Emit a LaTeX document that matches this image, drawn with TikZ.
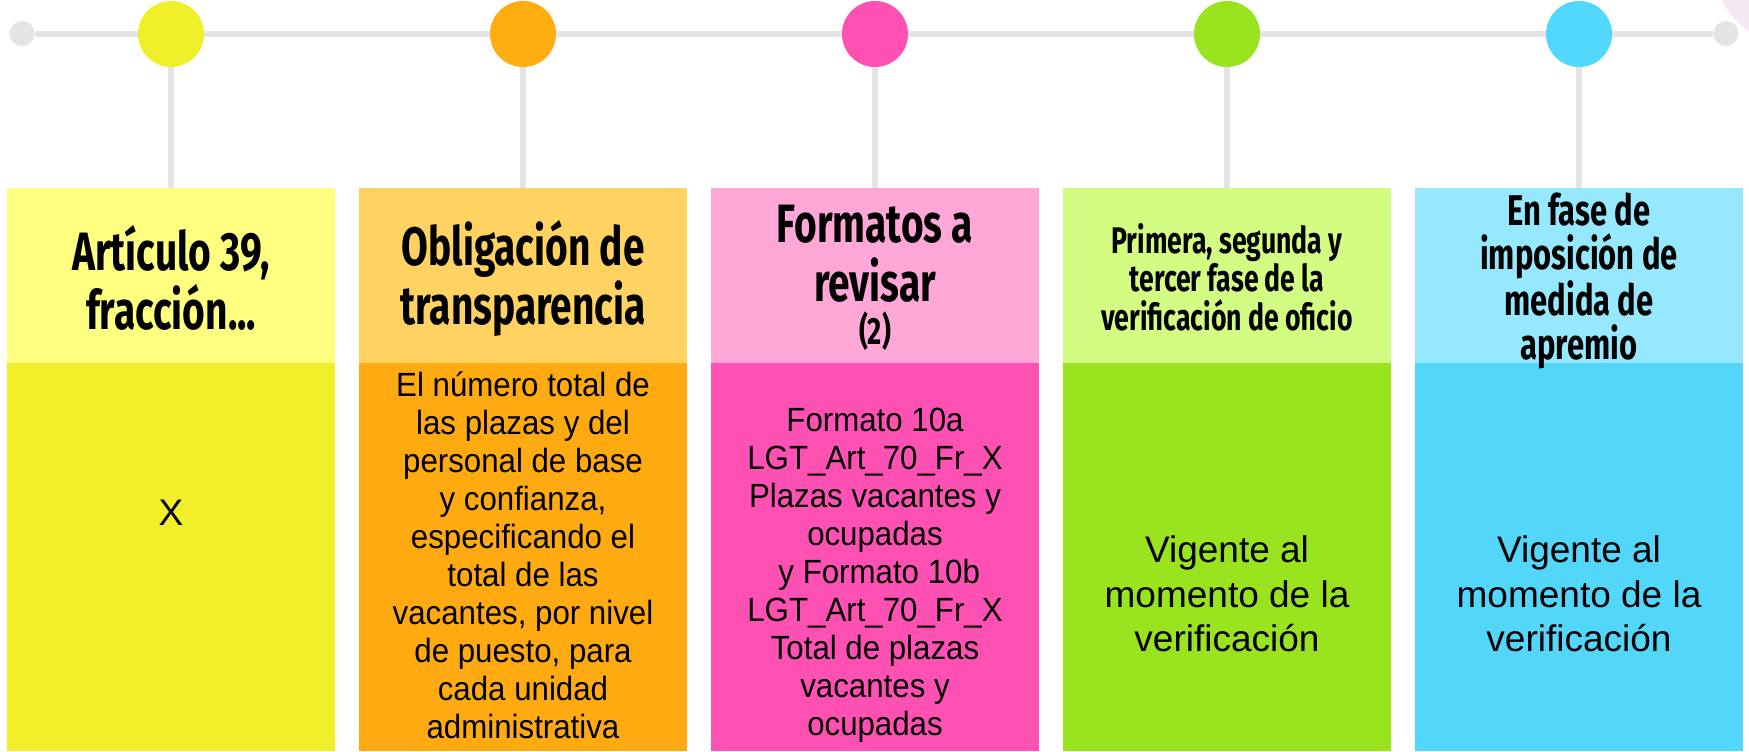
\documentclass[tikz,border=0pt]{standalone}
\usepackage{fontspec}
\setmainfont{Liberation Sans}
\newfontfamily\headfont[FakeStretch=0.72]{Fira Sans}
\newfontfamily\bodyfont[FakeStretch=0.93]{Liberation Sans}
\usetikzlibrary{positioning, backgrounds}
\definecolor{linegray}{HTML}{E4E4E4}
\definecolor{pinkbg}{HTML}{F7E9F3}
\definecolor{yelC}{HTML}{F0F02A}
\definecolor{yelH}{HTML}{FFFF80}
\definecolor{yelB}{HTML}{F0EF2A}
\definecolor{oraC}{HTML}{FFAE12}
\definecolor{oraH}{HTML}{FFD262}
\definecolor{oraB}{HTML}{FFAA10}
\definecolor{pinC}{HTML}{FF50B4}
\definecolor{pinH}{HTML}{FFA8D8}
\definecolor{pinB}{HTML}{FF50B4}
\definecolor{greC}{HTML}{9AE41F}
\definecolor{greH}{HTML}{D2FC82}
\definecolor{greB}{HTML}{99E31F}
\definecolor{bluC}{HTML}{52D8FC}
\definecolor{bluH}{HTML}{96E8FE}
\definecolor{bluB}{HTML}{52D6FA}

\begin{document}
\begin{tikzpicture}[x=0.5pt, y=-0.5pt,
    stagedot/.style={circle, inner sep=0pt, minimum size=33pt},
    enddot/.style={circle, fill=linegray, inner sep=0pt, minimum size=12.5pt},
    headbox/.style={minimum width=164pt, minimum height=87.5pt, inner sep=0pt},
    bodybox/.style={minimum width=164pt, minimum height=194pt, inner sep=0pt},
    bigtitle/.style={align=center, font=\headfont\bfseries\fontsize{27pt}{29.5pt}\selectfont},
    bodytext/.style={align=center, font=\bodyfont\fontsize{16.8pt}{19pt}\selectfont},
    widetext/.style={align=center, font=\fontsize{18.5pt}{22.3pt}\selectfont},
    conn/.style={draw=linegray, line width=3pt}]
  \useasboundingbox (0,0) rectangle (1749,751);
  \fill[pinkbg] (1800,-40) circle (44pt);

  % timeline
  \node[enddot] (lend) at (22,33.5) {};
  \node[enddot] (rend) at (1726,33.5) {};
  \node[stagedot, fill=yelC] (dot1) at (171,34) {};
  \node[stagedot, fill=oraC] (dot2) at (523,34) {};
  \node[stagedot, fill=pinC] (dot3) at (875,34) {};
  \node[stagedot, fill=greC] (dot4) at (1227,34) {};
  \node[stagedot, fill=bluC] (dot5) at (1579,34) {};

  % headers
  \node[headbox, fill=yelH] (head1) at (171,275.5) {};
  \node[headbox, fill=oraH] (head2) at (523,275.5) {};
  \node[headbox, fill=pinH] (head3) at (875,275.5) {};
  \node[headbox, fill=greH] (head4) at (1227,275.5) {};
  \node[headbox, fill=bluH] (head5) at (1579,275.5) {};

  % bodies
  \node[bodybox, fill=yelB] (body1) at (171,557) {};
  \node[bodybox, fill=oraB] (body2) at (523,557) {};
  \node[bodybox, fill=pinB] (body3) at (875,557) {};
  \node[bodybox, fill=greB] (body4) at (1227,557) {};
  \node[bodybox, fill=bluB] (body5) at (1579,557) {};

  \begin{pgfonlayer}{background}
    \draw[conn] (lend) -- (rend);
    \foreach \i in {1,...,5}
      \draw[conn] (dot\i) -- (head\i.north);
  \end{pgfonlayer}

  % header texts
  \node[bigtitle] (title1) at (171,278) {Artículo 39,\\fracción...};
  \node[bigtitle] (title2) at (523,278) {Obligación de\\transparencia};
  \node[bigtitle] (title3) at (875,254) {Formatos a\\revisar};
  \node[font=\headfont\bfseries\fontsize{19pt}{21pt}\selectfont] (count3) at (875,331) {(2)};
  \node[align=center, font=\headfont\bfseries\fontsize{18.5pt}{19.3pt}\selectfont] (title4) at (1227,277) {Primera, segunda y\\tercer fase de la\\verificación de oficio};
  \node[align=center, font=\headfont\bfseries\fontsize{21.5pt}{21.75pt}\selectfont] (title5) at (1579,281) {En fase de\\imposición de\\medida de\\apremio};

  % body texts
  \node[widetext] (text1) at (171,513) {X};
  \node[bodytext] (text2) at (523,555) {El número total de\\las plazas y del\\personal de base\\y confianza,\\especificando el\\total de las\\vacantes, por nivel\\de puesto, para\\cada unidad\\administrativa};
  \node[bodytext] (text3) at (875,575) {Formato 10a\\LGT\_Art\_70\_Fr\_X\\Plazas vacantes y\\ocupadas\\\hspace*{.25em}y Formato 10b\\LGT\_Art\_70\_Fr\_X\\Total de plazas\\vacantes y\\ocupadas};
  \node[widetext] (text4) at (1227,594) {Vigente al\\momento de la\\verificación};
  \node[widetext] (text5) at (1579,594) {Vigente al\\momento de la\\verificación};
\end{tikzpicture}
\end{document}
